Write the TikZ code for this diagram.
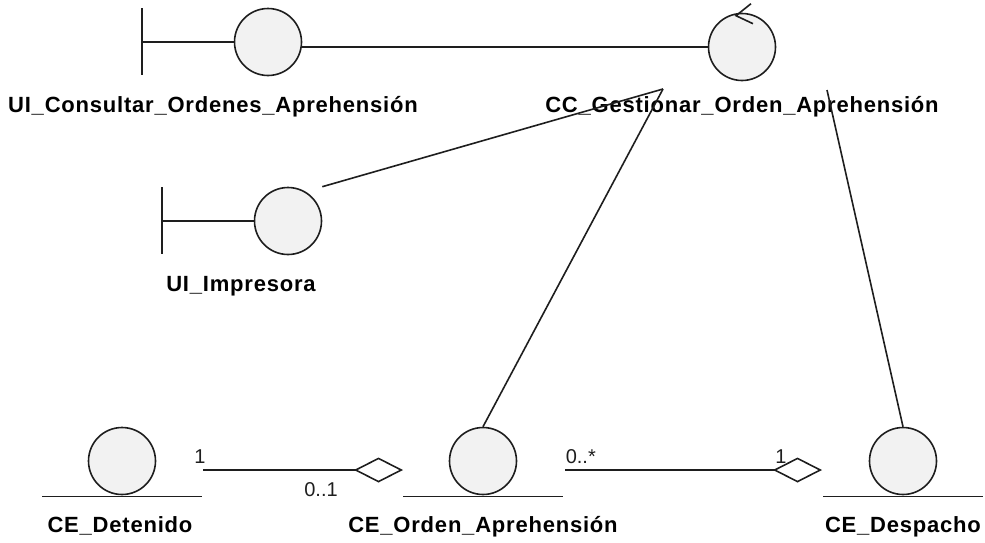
\documentclass[tikz,border=0pt]{standalone}
\usepackage{fontspec}
\setsansfont{Liberation Sans}
\usepackage{tikz}
\usetikzlibrary{arrows.meta, positioning, calc}
\definecolor{robfill}{HTML}{F2F2F2}
\definecolor{robline}{HTML}{1E1E1E}

\begin{document}
\begin{tikzpicture}[
    x=1pt, y=-1pt,
    robot/.style={circle, draw=robline, fill=robfill, line width=1.6pt, minimum size=67pt, inner sep=0pt},
    lbl/.style={font=\sffamily\bfseries\fontsize{22}{24}\selectfont\addfontfeature{LetterSpace=3.6}, text=black, inner sep=0pt, text height=16pt, text depth=5pt},
    mult/.style={font=\sffamily\fontsize{20}{22}\selectfont, text=robline, inner sep=0pt},
    link/.style={line width=1.6pt, color=robline},
    aggr/.style={link, -{Diamond[open, length=49pt, width=25pt, line width=1.6pt]}}
]
\useasboundingbox (0,0) rectangle (985,542);

% boundary classes
\node[robot] (uic) at (268,42) {};
\draw[link] (uic.west) -- ++(-92,0) coordinate (uic-stem);
\draw[link] ($(uic-stem)+(0,-34)$) -- ($(uic-stem)+(0,33)$);
\node[lbl, below=20pt of uic, xshift=-55pt] (uic-lbl) {UI\_Consultar\_Ordenes\_Aprehensión};

\node[robot] (imp) at (288,221) {};
\draw[link] (imp.west) -- ++(-92,0) coordinate (imp-stem);
\draw[link] ($(imp-stem)+(0,-34)$) -- ($(imp-stem)+(0,33)$);
\node[lbl, below=20pt of imp, xshift=-47pt] (imp-lbl) {UI\_Impresora};

% control class
\node[robot] (cc) at (742,47) {};
\draw[link] ($(cc.north)+(9,-9)$) -- ($(cc.north)+(-6,3)$) -- ($(cc.north)+(11,11)$);
\node[lbl, below=15pt of cc] (cc-lbl) {CC\_Gestionar\_Orden\_Aprehensión};
\coordinate (cc-left) at ($(cc.center)+(-79,42)$);
\coordinate (cc-right) at ($(cc.center)+(85,43)$);

% entity classes
\node[robot] (det) at (122,461) {};
\node[robot] (ord) at (483,461) {};
\node[robot] (desp) at (903,461) {};
\foreach \e in {det, ord, desp} {
    \draw[link] ($(\e.south)+(-80,1)$) -- ($(\e.south)+(80,1)$);
}
\node[lbl, below=21pt of det, xshift=-2pt] (det-lbl) {CE\_Detenido};
\node[lbl, below=21pt of ord] (ord-lbl) {CE\_Orden\_Aprehensión};
\node[lbl, below=21pt of desp] (desp-lbl) {CE\_Despacho};

\coordinate (det-out) at ($(det.center)+(81,9)$);
\coordinate (ord-in) at ($(ord.center)+(-80,9)$);
\coordinate (ord-out) at ($(ord.center)+(82,9)$);
\coordinate (desp-in) at ($(desp.center)+(-81,9)$);

% connectors
\draw[link] (uic.east |- cc.center) -- (cc.west);
\draw[link] (imp.east |- imp.north) -- (cc-left);
\draw[link] (ord.north) -- (cc-left);
\draw[link] (desp.north) -- (cc-right);

\draw[aggr] (det-out) -- (ord-in)
    node[mult, pos=0, above=6pt, xshift=-3pt] (m-det) {1}
    node[mult, pos=0.59, below=12pt] (m-ord1) {0..1};
\draw[aggr] (ord-out) -- (desp-in)
    node[mult, pos=0, above=6pt, anchor=south west] (m-ord2) {0..*}
    node[mult, pos=0.84, above=6pt] (m-desp) {1};
\end{tikzpicture}
\end{document}
